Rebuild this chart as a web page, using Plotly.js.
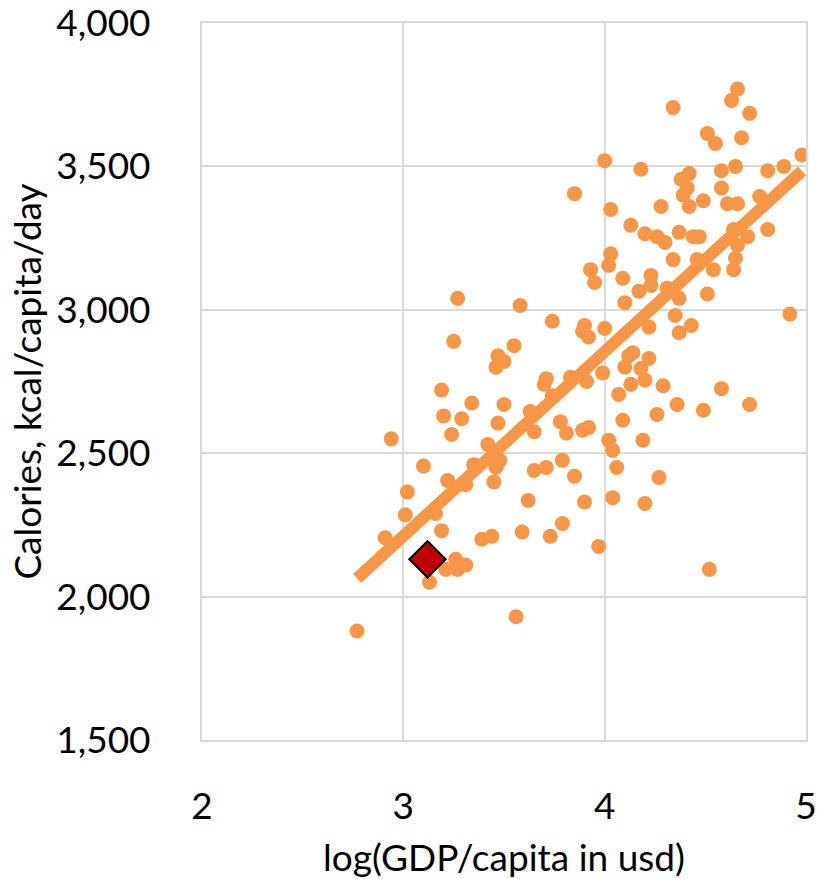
<!DOCTYPE html>
<html>
<head>
<meta charset="utf-8">
<script src="https://cdn.plot.ly/plotly-3.0.1.min.js"></script>
<style>html,body{margin:0;padding:0;background:#fff;}#chart{width:821px;height:879px;}</style>
</head>
<body>
<div id="chart"></div>
<script>
// log10(GDP per capita, USD)
const logGdp = [
  3.25,3.55,3.47,3.50,3.46,3.19,3.34,3.50,2.94,3.20,3.29,3.24,3.47,3.42,3.63,3.65,3.10,3.22,3.35,3.31,
  3.45,3.46,3.48,3.02,3.01,3.16,3.19,2.91,3.39,3.44,3.59,3.62,3.65,3.21,3.26,3.31,3.27,3.13,3.56,2.77,
  3.27,4.00,4.18,3.85,4.03,4.28,4.13,4.20,4.26,4.03,4.02,3.93,3.95,4.09,4.23,4.17,4.23,3.58,4.10,3.74,
  3.90,3.89,3.92,4.00,4.22,4.14,4.12,4.10,4.18,4.22,3.71,3.70,3.83,3.99,3.91,4.13,4.20,4.07,3.74,3.78,
  3.81,3.89,3.92,4.09,4.26,4.02,4.04,4.19,3.71,3.79,3.85,4.06,4.27,3.90,4.04,4.20,3.73,3.79,3.97,4.66,
  4.63,4.34,4.72,4.51,4.55,4.68,4.42,4.38,4.58,4.65,4.81,4.89,4.98,4.58,4.41,4.39,4.42,4.49,4.61,4.66,
  4.77,4.30,4.37,4.44,4.47,4.64,4.71,4.66,4.81,4.34,4.46,4.54,4.65,4.64,4.31,4.37,4.51,4.35,4.43,4.92,
  4.37,4.29,4.36,4.49,4.58,4.72,4.52
];
// Calories, kcal/capita/day
const calories = [
  2890,2875,2840,2820,2800,2720,2675,2670,2550,2630,2620,2565,2605,2530,2645,2575,2455,2405,2460,2390,
  2400,2450,2475,2365,2285,2290,2230,2205,2200,2210,2225,2335,2440,2095,2130,2110,2095,2050,1930,1880,
  3040,3520,3490,3405,3350,3360,3295,3265,3255,3195,3155,3140,3095,3110,3120,3065,3085,3015,3025,2960,
  2945,2925,2905,2935,2940,2850,2840,2800,2795,2830,2760,2740,2765,2780,2750,2740,2755,2705,2700,2610,
  2570,2580,2590,2615,2635,2545,2510,2545,2450,2475,2420,2450,2415,2330,2345,2325,2210,2255,2175,3770,
  3730,3705,3685,3615,3580,3600,3475,3455,3485,3500,3485,3500,3540,3425,3425,3400,3360,3380,3370,3370,
  3395,3235,3270,3255,3255,3280,3255,3225,3280,3175,3175,3140,3180,3140,3075,3040,3055,2980,2945,2985,
  2920,2735,2670,2650,2725,2670,2095
];
// highlighted country
const highlightX = [3.12];
const highlightY = [2130];

// linear trendline (Excel-style fit): calories = intercept + slope * logGdp
const trendSlope = 643;
const trendIntercept = 282;

const xTicks = [2, 3, 4, 5];
const yTicks = [1500, 2000, 2500, 3000, 3500, 4000];

const xMin = Math.min(...logGdp), xMax = Math.max(...logGdp);
const trendX = [xMin, xMax];
const trendY = trendX.map(v => trendIntercept + trendSlope * v);

const FONT = 'Lato, "Open Sans", sans-serif';
const ORANGE = '#F79646';
const GRID = '#D9D9D9';

const traces = [
  { type: 'scatter', mode: 'markers', x: logGdp, y: calories,
    marker: { color: ORANGE, size: 15, line: { width: 0 } }, hoverinfo: 'x+y' },
  { type: 'scatter', mode: 'lines', x: trendX, y: trendY,
    line: { color: ORANGE, width: 12 }, hoverinfo: 'skip' },
  { type: 'scatter', mode: 'markers', x: highlightX, y: highlightY,
    marker: { symbol: 'diamond', color: '#C00000', size: 28, line: { color: '#000', width: 2 } } }
];

const layout = {
  width: 821, height: 879,
  margin: { l: 202, r: 15, t: 23, b: 139 },
  paper_bgcolor: '#fff', plot_bgcolor: '#fff',
  showlegend: false,
  font: { family: FONT, color: '#000', size: 37 },
  xaxis: {
    range: [2, 5], tickvals: xTicks, ticktext: xTicks.map(String),
    showgrid: true, gridcolor: GRID, gridwidth: 2,
    showline: true, linecolor: GRID, linewidth: 2, mirror: true,
    zeroline: false, ticks: '',
    ticklabelstandoff: 33, ticklabeloverflow: 'allow',
    tickfont: { family: FONT, size: 37, color: '#000' },
    title: { text: 'log(GDP/capita in usd)', font: { family: FONT, size: 37, color: '#000' }, standoff: 22 }
  },
  yaxis: {
    range: [1500, 4000], tickvals: yTicks, ticktext: yTicks.map(v => v.toLocaleString('en-US')),
    showgrid: true, gridcolor: GRID, gridwidth: 2,
    showline: true, linecolor: GRID, linewidth: 2, mirror: true,
    zeroline: false, ticks: '',
    ticklabelstandoff: 42, ticklabeloverflow: 'allow',
    tickfont: { family: FONT, size: 37, color: '#000' },
    title: { text: 'Calories, kcal/capita/day', font: { family: FONT, size: 37, color: '#000' }, standoff: 3 }
  }
};

Plotly.newPlot('chart', traces, layout, { displayModeBar: false, staticPlot: true });
</script>
</body>
</html>
